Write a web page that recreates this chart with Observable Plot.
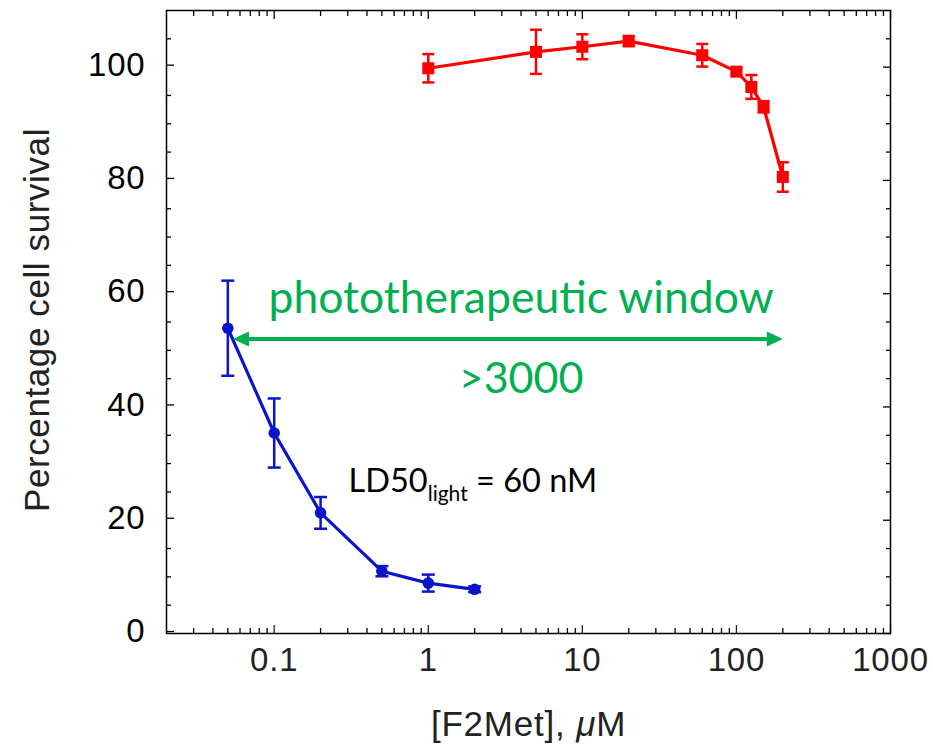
<!DOCTYPE html>
<html>
<head>
<meta charset="utf-8">
<script src="https://cdn.jsdelivr.net/npm/d3@7"></script>
<script src="https://cdn.jsdelivr.net/npm/@observablehq/plot@0.6"></script>
<style>
  html, body { margin: 0; padding: 0; background: #fff; }
</style>
</head>
<body>
<div id="chart"></div>
<script>
// Light-exposed (blue) series
const blueX = [0.05, 0.1, 0.2, 0.5, 1, 2];
const blueY = [53.9, 35.4, 21.3, 11.0, 8.9, 7.8];
const blueErr = [8.4, 6.1, 2.8, 0.9, 1.5, 0.5];
// Dark (red) series
const redX = [1, 5, 10, 20, 60, 100, 125, 150, 200];
const redY = [99.8, 102.7, 103.6, 104.6, 102.1, 99.2, 96.5, 93.0, 80.6];
const redErr = [2.5, 3.9, 2.2, 0.9, 2.0, 0.6, 2.1, 1.0, 2.6];

// Axis ticks
const xMajor = [0.1, 1, 10, 100, 1000];
const xMinor = [0.03,0.04,0.05,0.06,0.07,0.08,0.09,
                0.2,0.3,0.4,0.5,0.6,0.7,0.8,0.9,
                2,3,4,5,6,7,8,9,
                20,30,40,50,60,70,80,90,
                200,300,400,500,600,700,800,900];
const xTickLabels = ["0.1", "1", "10", "100", "1000"];
const yMajor = [0, 20, 40, 60, 80, 100];
const yMinor = [5,10,15,25,30,35,45,50,55,65,70,75,85,90,95,105];
const yTickLabels = ["0", "20", "40", "60", "80", "100"];

// Annotations
const windowArrowX = [0.054, 200];
const windowArrowY = 52;
const windowLabel = "phototherapeutic window";
const ratioLabel = ">3000";
const ld50Label = "LD50light = 60 nM";
const xLabel = "[F2Met], μM";
const yLabel = "Percentage cell survival";

const blue = blueX.map((x, i) => ({x, y: blueY[i], lo: blueY[i] - blueErr[i], hi: blueY[i] + blueErr[i]}));
const red = redX.map((x, i) => ({x, y: redY[i], lo: redY[i] - redErr[i], hi: redY[i] + redErr[i]}));

const BLUE = "#0a14c8";
const RED = "#ff0000";
const GREEN = "#00b050";

const capSymbol = (hw) => ({draw(ctx) { ctx.moveTo(-hw, 0); ctx.lineTo(hw, 0); }});
const headRight = {draw(ctx) { ctx.moveTo(0, 0); ctx.lineTo(-16, -7.5); ctx.lineTo(-16, 7.5); ctx.closePath(); }};
const headLeft = {draw(ctx) { ctx.moveTo(0, 0); ctx.lineTo(16, -7.5); ctx.lineTo(16, 7.5); ctx.closePath(); }};

const fmtX = d => xTickLabels[xMajor.indexOf(d)];
const fmtY = d => yTickLabels[yMajor.indexOf(d)];
const AX = "Liberation Sans, Arial, Helvetica, sans-serif";
const CAL = "Lato, 'Open Sans', sans-serif";

const plot = Plot.plot({
  width: 933,
  height: 745,
  marginLeft: 166,
  marginRight: 43,
  marginTop: 10,
  marginBottom: 112,
  style: {fontFamily: AX, background: "#fff", overflow: "visible"},
  x: {type: "log", domain: [0.02, 1000], axis: null},
  y: {domain: [0, 110], axis: null},
  marks: [
    // axes: inward ticks on all four sides
    Plot.axisX(xMajor, {anchor: "bottom", tickSize: -8, tickPadding: 22, tickFormat: fmtX, fontSize: 33, label: null, strokeWidth: 1.3, color: "#222", className: "xt"}),
    Plot.axisX(xMinor, {anchor: "bottom", tickSize: -5, tickFormat: () => "", label: null, strokeWidth: 1.3}),
    Plot.axisX(xMajor, {anchor: "top", tickSize: -8, tickFormat: () => "", label: null, strokeWidth: 1.3}),
    Plot.axisX(xMinor, {anchor: "top", tickSize: -5, tickFormat: () => "", label: null, strokeWidth: 1.3}),
    Plot.axisY(yMajor, {anchor: "left", tickSize: -8, tickPadding: 29, tickFormat: fmtY, fontSize: 33, label: null, strokeWidth: 1.3, dy: -2}),
    Plot.axisY(yMinor, {anchor: "left", tickSize: -5, tickFormat: () => "", label: null, strokeWidth: 1.3}),
    Plot.axisY(yMajor, {anchor: "right", tickSize: -8, tickFormat: () => "", label: null, strokeWidth: 1.3}),
    Plot.axisY(yMinor, {anchor: "right", tickSize: -5, tickFormat: () => "", label: null, strokeWidth: 1.3}),
    Plot.frame({stroke: "black", strokeWidth: 1.5}),

    // red series
    Plot.line(red, {x: "x", y: "y", stroke: RED, strokeWidth: 3.2}),
    Plot.ruleX(red, {x: "x", y1: "lo", y2: "hi", stroke: RED, strokeWidth: 2.5}),
    Plot.dot(red, {x: "x", y: "lo", symbol: capSymbol(6), stroke: RED, strokeWidth: 2.5, r: 6}),
    Plot.dot(red, {x: "x", y: "hi", symbol: capSymbol(6), stroke: RED, strokeWidth: 2.5, r: 6}),
    Plot.dot(red, {x: "x", y: "y", symbol: "square", fill: RED, r: 6.8}),

    // blue series
    Plot.line(blue, {x: "x", y: "y", stroke: BLUE, strokeWidth: 3.2}),
    Plot.ruleX(blue, {x: "x", y1: "lo", y2: "hi", stroke: BLUE, strokeWidth: 2.5}),
    Plot.dot(blue, {x: "x", y: "lo", symbol: capSymbol(6.5), stroke: BLUE, strokeWidth: 2.5, r: 6}),
    Plot.dot(blue, {x: "x", y: "hi", symbol: capSymbol(6.5), stroke: BLUE, strokeWidth: 2.5, r: 6}),
    Plot.dot(blue, {x: "x", y: "y", fill: BLUE, r: 5.8}),

    // phototherapeutic window arrow
    Plot.ruleY([windowArrowY], {x1: windowArrowX[0], x2: windowArrowX[1], stroke: GREEN, strokeWidth: 4, insetLeft: 8, insetRight: 8}),
    Plot.dot([{x: windowArrowX[0], y: windowArrowY}], {x: "x", y: "y", symbol: headLeft, fill: GREEN, r: 8}),
    Plot.dot([{x: windowArrowX[1], y: windowArrowY}], {x: "x", y: "y", symbol: headRight, fill: GREEN, r: 8}),
    Plot.text([windowLabel], {x: 4, y: 56.6, text: d => d, fill: GREEN, fontSize: 44.5, fontFamily: CAL, textAnchor: "middle", lineAnchor: "bottom"}),
    Plot.text([ratioLabel], {x: 4, y: 42.5, text: d => d, fill: GREEN, fontSize: 43, fontFamily: CAL, textAnchor: "middle", lineAnchor: "bottom"}),
    Plot.text([ld50Label], {x: 0.304, y: 24.9, text: d => d, fill: "black", fontSize: 32.5, fontFamily: CAL, textAnchor: "start", lineAnchor: "bottom"}),

    // axis labels
    Plot.text([yLabel], {frameAnchor: "left", dx: -118, dy: -2, text: d => d, rotate: -90, fontSize: 35, fill: "#222", textAnchor: "middle", lineAnchor: "bottom"}),
    Plot.text([xLabel], {frameAnchor: "bottom", dy: 102, text: d => d, fontSize: 35, fill: "#222", textAnchor: "middle", lineAnchor: "bottom"})
  ]
});

// rich text: subscript and italic mu; letter spacing of the Helvetica-like labels
d3.select(plot).selectAll("text").each(function() {
  const t = this.textContent;
  const sel = d3.select(this);
  if (t === ld50Label) {
    sel.text(null);
    sel.append("tspan").text("LD50");
    sel.append("tspan").attr("font-size", 21).attr("dy", 9).text("light");
    sel.append("tspan").attr("dy", -9).text(" = 60 nM");
  } else if (t === xLabel) {
    sel.text(null).attr("letter-spacing", 0.8);
    sel.append("tspan").text("[F2Met], ");
    sel.append("tspan").attr("font-style", "italic").text("μ");
    sel.append("tspan").text("M");
  } else if (t === yLabel) {
    sel.attr("letter-spacing", 0.6);
  } else if (xTickLabels.includes(t) || yTickLabels.includes(t)) {
    sel.attr("letter-spacing", 0.8);
  }
});

document.getElementById("chart").appendChild(plot);
</script>
</body>
</html>
